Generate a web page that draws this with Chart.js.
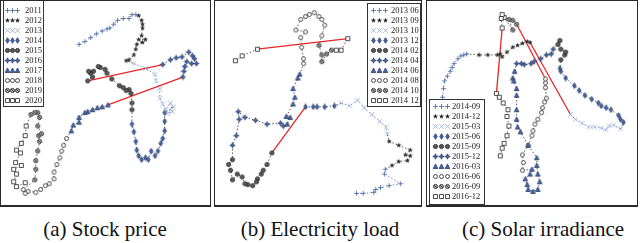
<!DOCTYPE html>
<html>
<head>
<meta charset="utf-8">
<script src="https://cdn.jsdelivr.net/npm/chart.js@4.4.0/dist/chart.umd.min.js"></script>
<style>
  html, body { margin: 0; padding: 0; background: #fff; }
  #wrap { position: relative; width: 640px; height: 243px; overflow: hidden; }
  .panel { position: absolute; box-sizing: border-box; border: 1px solid #2a2a2a; border-bottom-width: 2px; }
  canvas { position: absolute; }
  .cap { position: absolute; top: 217px; width: 240px; height: 24px; line-height: 24px; text-align: center;
         font: 21px "Liberation Serif", "Times New Roman", serif; color: #111; white-space: nowrap; }
</style>
</head>
<body>
<div id="wrap"></div>
<script>
// ---- data (x, y in picture units) ----
const stockLabels = ['2011','2012','2013','2014','2015','2016','2017','2018','2019','2020'];
const stockPts = [
  [[78,42],[84,39],[90,35],[96,31],[102,28],[107,26],[110,25],[114,21],[118,17],[124,15],[130,15],[133,11],[137,11]],
  [[140,12],[143,17],[144,21],[144,25],[143,33],[147,37],[140,37],[144,40],[138,42],[137,47],[135,53],[130,58],[127,59]],
  [[135,62],[147,67],[157,73],[158,80],[162,88],[162,98],[165,104],[168,110],[173,103],[175,112],[170,114],[176,107]],
  [[167,113],[167,122],[167,132],[165,140],[163,145],[160,153],[157,158],[153,153],[150,162],[147,160],[143,162],[140,158],[138,152],[137,143],[135,133],[133,125]],
  [[133,110],[133,103],[132,93],[130,89],[127,90],[124,87],[120,85],[112,78],[107,72],[105,68],[100,66],[98,65],[93,70],[90,72],[88,70],[92,76],[87,80]],
  [[165,63],[173,58],[179,56],[185,55],[192,50],[196,54],[198,57],[200,62],[195,62],[190,60],[188,65],[187,70],[186,76]],
  [[108,105],[102,107],[97,108],[92,110],[87,112],[84,113],[78,118],[78,123],[72,126],[70,132]],
  [[65,140],[62,147],[60,153],[58,160],[55,167],[52,175],[52,182],[47,187],[43,189],[38,193],[33,196],[25,195],[22,197],[20,193]],
  [[32,183],[33,172],[33,163],[35,153],[37,143],[36,137],[39,135],[35,127],[37,118],[35,113],[32,113],[28,115]],
  [[23,127],[22,137],[18,145],[13,152],[17,155],[12,165],[18,168],[10,172],[13,177],[10,185],[13,190],[22,186]]
];
const stockJumps = [[5,0],[6,0]];

const loadLabels = ['2013 06','2013 09','2013 10','2013 12','2014 02','2014 04','2014 06','2014 08','2014 10','2014 12'];
const loadPts = [
  [[358,197],[365,197],[376,196],[378,193],[383,191],[392,189],[404,187],[387,177],[388,172]],
  [[395,168],[402,164],[411,163],[414,158],[409,157],[414,152],[402,147],[392,143]],
  [[390,135],[389,128],[382,122],[374,115],[366,108],[359,100],[351,106],[342,103]],
  [[335,106],[325,107],[317,107],[313,107],[305,107]],
  [[270,155],[265,167],[261,173],[259,177],[255,182],[254,185],[250,189],[245,188],[242,187],[239,180],[234,177],[229,183],[227,173],[225,167],[229,162]],
  [[229,147],[233,137],[236,120],[235,112],[242,118],[253,121],[265,125],[279,124],[282,127]],
  [[286,125],[289,118],[285,117],[292,104],[294,97],[292,88],[297,77],[299,73]],
  [[303,62],[303,57],[301,45],[300,35],[305,29],[295,27],[300,16],[305,13],[309,11],[314,9],[319,13],[322,16],[325,22],[322,33]],
  [[319,43],[322,53],[322,60],[327,52],[332,48]],
  [[337,48],[342,48],[349,36],[255,47],[239,54],[232,59]]
];
const loadJumps = [[4,0],[9,3]];

const solarLabels = ['2014-09','2014-12','2015-03','2015-06','2015-09','2015-12','2016-03','2016-06','2016-09','2016-12'];
const solarPts = [
  [[439,97],[440,88],[441,80],[444,75],[447,70],[449,66],[451,62],[455,57],[458,54],[461,53],[464,52]],
  [[477,53],[486,53],[496,53],[499,52],[501,55],[506,50],[512,45],[517,43],[522,41],[527,39],[530,40]],
  [[572,115],[577,120],[584,124],[591,128],[597,128],[604,129],[609,131],[612,127],[617,126],[624,130]],
  [[627,123],[624,120],[622,116],[614,110],[609,108],[604,106],[601,103],[594,99],[587,95],[581,90],[576,85],[567,77],[562,70],[561,67]],
  [[562,58],[566,53],[567,50],[562,47],[559,42],[561,38]],
  [[554,47],[552,52],[547,53],[541,57],[534,60],[531,62],[524,63],[521,62],[516,62]],
  [[514,70],[512,77],[513,80],[516,88],[516,95],[516,110],[516,120],[517,128],[520,133],[528,147],[537,160],[537,168],[538,177],[540,185],[538,193],[533,195],[528,193],[527,188],[525,182],[530,177],[532,172]],
  [[522,173],[523,165],[522,157],[528,147],[532,137],[533,132],[535,125],[538,120],[542,113],[543,108],[545,102],[547,98],[546,87],[546,82],[546,78]],
  [[516,21],[512,17],[508,16],[512,27]],
  [[503,14],[501,11],[500,15],[501,25],[495,93],[498,97],[502,103],[507,110],[506,117],[508,127],[506,137],[503,145],[501,150],[499,158]]
];
const solarJumps = [[2,0],[8,0],[9,4]];

// ---- styles ----
const BLUE = '#4666a8', LBLUE = '#8fa9dc', INK = '#222';

function starPath(g, cx, cy, ro, ri, n) {
  for (let i = 0; i < n * 2; i++) {
    const r = i % 2 ? ri : ro;
    const a = -Math.PI / 2 + i * Math.PI / n;
    const x = cx + r * Math.cos(a), y = cy + r * Math.sin(a);
    i ? g.lineTo(x, y) : g.moveTo(x, y);
  }
  g.closePath();
}

function paintMarker(g, k, cx, cy) {
  g.lineWidth = 0.8;
  g.beginPath();
  switch (k) {
    case 0: // plus
      g.strokeStyle = BLUE;
      g.moveTo(cx - 2.5, cy); g.lineTo(cx + 2.5, cy); g.moveTo(cx, cy - 2.5); g.lineTo(cx, cy + 2.5);
      g.stroke(); break;
    case 1: // star
      starPath(g, cx, cy, 2.8, 1.1, 5); g.fillStyle = INK; g.fill(); break;
    case 2: // x
      g.strokeStyle = LBLUE;
      g.moveTo(cx - 2.3, cy - 2.3); g.lineTo(cx + 2.3, cy + 2.3); g.moveTo(cx + 2.3, cy - 2.3); g.lineTo(cx - 2.3, cy + 2.3);
      g.stroke(); break;
    case 3: // diamond
      g.moveTo(cx, cy - 2.8); g.lineTo(cx + 1.8, cy); g.lineTo(cx, cy + 2.8); g.lineTo(cx - 1.8, cy); g.closePath();
      g.fillStyle = BLUE; g.fill(); g.strokeStyle = '#2a3d6a'; g.stroke(); break;
    case 4: // dark circle
      g.arc(cx, cy, 2.1, 0, Math.PI * 2); g.fillStyle = '#5a5a5a'; g.fill(); g.strokeStyle = INK; g.stroke(); break;
    case 5: // blue four point star
      starPath(g, cx, cy, 2.7, 1.2, 4); g.fillStyle = BLUE; g.fill(); g.strokeStyle = '#2a3d6a'; g.stroke(); break;
    case 6: // triangle
      g.moveTo(cx, cy - 2.5); g.lineTo(cx + 2.3, cy + 2); g.lineTo(cx - 2.3, cy + 2); g.closePath();
      g.fillStyle = BLUE; g.fill(); g.strokeStyle = '#2a3d6a'; g.stroke(); break;
    case 7: // open circle
      g.arc(cx, cy, 2, 0, Math.PI * 2); g.fillStyle = '#fff'; g.fill(); g.strokeStyle = INK; g.stroke(); break;
    case 8: // grey circle with cross
      g.arc(cx, cy, 2.1, 0, Math.PI * 2); g.fillStyle = '#aaa'; g.fill(); g.strokeStyle = INK; g.stroke();
      g.beginPath(); g.moveTo(cx - 1.3, cy - 1.3); g.lineTo(cx + 1.3, cy + 1.3); g.stroke(); break;
    case 9: // open square
      g.rect(cx - 2, cy - 2, 4, 4); g.fillStyle = '#fff'; g.fill(); g.strokeStyle = INK; g.stroke(); break;
  }
}

const markers = [];
for (let k = 0; k < 10; k++) {
  const c = document.createElement('canvas');
  c.width = 7; c.height = 7;
  paintMarker(c.getContext('2d'), k, 3.5, 3.5);
  markers.push(c);
}

const panels = [
  { left: 0, top: 0, w: 211, h: 207, labels: stockLabels, pts: stockPts, jumps: stockJumps,
    caption: '(a) Stock price', capMid: 105,
    legend: { x: 3, y: 0, w: 41, h: 107, row0: 10, step: 10, mark: [7, 12, 17], text: 25 } },
  { left: 214, top: 0, w: 208, h: 207, labels: loadLabels, pts: loadPts, jumps: loadJumps,
    caption: '(b) Electricity load', capMid: 320,
    legend: { x: 367, y: 3, w: 54, h: 104, row0: 10, step: 10, mark: [373, 379, 385], text: 391 } },
  { left: 426, top: 0, w: 212, h: 207, labels: solarLabels, pts: solarPts, jumps: solarJumps,
    caption: '(c) Solar irradiance', capMid: 543,
    legend: { x: 429, y: 99, w: 56, h: 106, row0: 106, step: 10, mark: [435, 441, 447], text: 452 } }
];

const wrap = document.getElementById('wrap');

panels.forEach(function (p) {
  const box = document.createElement('div');
  box.className = 'panel';
  box.style.left = p.left + 'px'; box.style.top = p.top + 'px';
  box.style.width = p.w + 'px'; box.style.height = p.h + 'px';
  wrap.appendChild(box);

  const cx0 = p.left + 1, cy0 = p.top + 1, cw = p.w - 2, ch = p.h - 3;
  const cv = document.createElement('canvas');
  cv.width = cw; cv.height = ch;
  cv.style.left = cx0 + 'px'; cv.style.top = cy0 + 'px';
  cv.style.width = cw + 'px'; cv.style.height = ch + 'px';
  wrap.appendChild(cv);

  const cap = document.createElement('div');
  cap.className = 'cap';
  cap.style.left = (p.capMid - 120) + 'px';
  cap.textContent = p.caption;
  wrap.appendChild(cap);

  // whole path through every series, red where the trajectory jumps
  const path = [], owner = [], red = new Set();
  p.pts.forEach(function (s, si) {
    s.forEach(function (q, qi) {
      p.jumps.forEach(function (j) { if (j[0] === si && j[1] === qi) red.add(path.length); });
      path.push({ x: q[0], y: q[1] });
      owner.push(si);
    });
  });

  const datasets = p.pts.map(function (s, si) {
    return {
      label: p.labels[si],
      data: s.map(function (q) { return { x: q[0], y: q[1] }; }),
      showLine: false,
      pointStyle: markers[si],
      pointRadius: 3,
      pointHoverRadius: 3,
      order: 0
    };
  });
  datasets.push({
    label: 'path',
    data: path,
    showLine: true,
    pointRadius: 0,
    borderColor: '#333',
    borderWidth: 0.8,
    borderDash: [1.5, 2],
    tension: 0,
    order: 1,
    segment: {
      borderColor: function (ctx) {
        if (red.has(ctx.p1DataIndex)) return '#e8262a';
        const o = owner[ctx.p0DataIndex];
        return (o === 0 || o === 2) && owner[ctx.p1DataIndex] === o ? '#5572b0' : '#333';
      },
      borderDash: function (ctx) { return red.has(ctx.p1DataIndex) ? [] : [1.5, 2]; },
      borderWidth: function (ctx) { return red.has(ctx.p1DataIndex) ? 1.3 : 0.8; }
    }
  });

  const lg = p.legend;
  const legendBox = {
    id: 'legendBox',
    afterDraw: function (chart) {
      const g = chart.ctx;
      g.save();
      g.fillStyle = '#fff';
      g.fillRect(lg.x - cx0, lg.y - cy0, lg.w, lg.h);
      g.strokeStyle = '#333'; g.lineWidth = 1;
      g.strokeRect(lg.x - cx0 + 0.5, lg.y - cy0 + 0.5, lg.w - 1, lg.h - 1);
      g.font = '8.5px "Liberation Serif", "Times New Roman", serif';
      g.fillStyle = '#222';
      g.textBaseline = 'middle';
      p.labels.forEach(function (t, i) {
        const ry = lg.row0 + i * lg.step - cy0;
        lg.mark.forEach(function (mx) {
          g.drawImage(markers[i], Math.round(mx - cx0) - 3, Math.round(ry) - 3);
        });
        g.fillText(t, lg.text - cx0, ry + 0.5);
      });
      g.restore();
    }
  };

  new Chart(cv.getContext('2d'), {
    type: 'scatter',
    data: { datasets: datasets },
    options: {
      responsive: false,
      animation: false,
      events: [],
      layout: { padding: 0 },
      scales: {
        x: { type: 'linear', display: false, min: cx0, max: cx0 + cw },
        y: { type: 'linear', display: false, min: cy0, max: cy0 + ch, reverse: true }
      },
      plugins: { legend: { display: false }, tooltip: { enabled: false } }
    },
    plugins: [legendBox]
  });
});
</script>
</body>
</html>
